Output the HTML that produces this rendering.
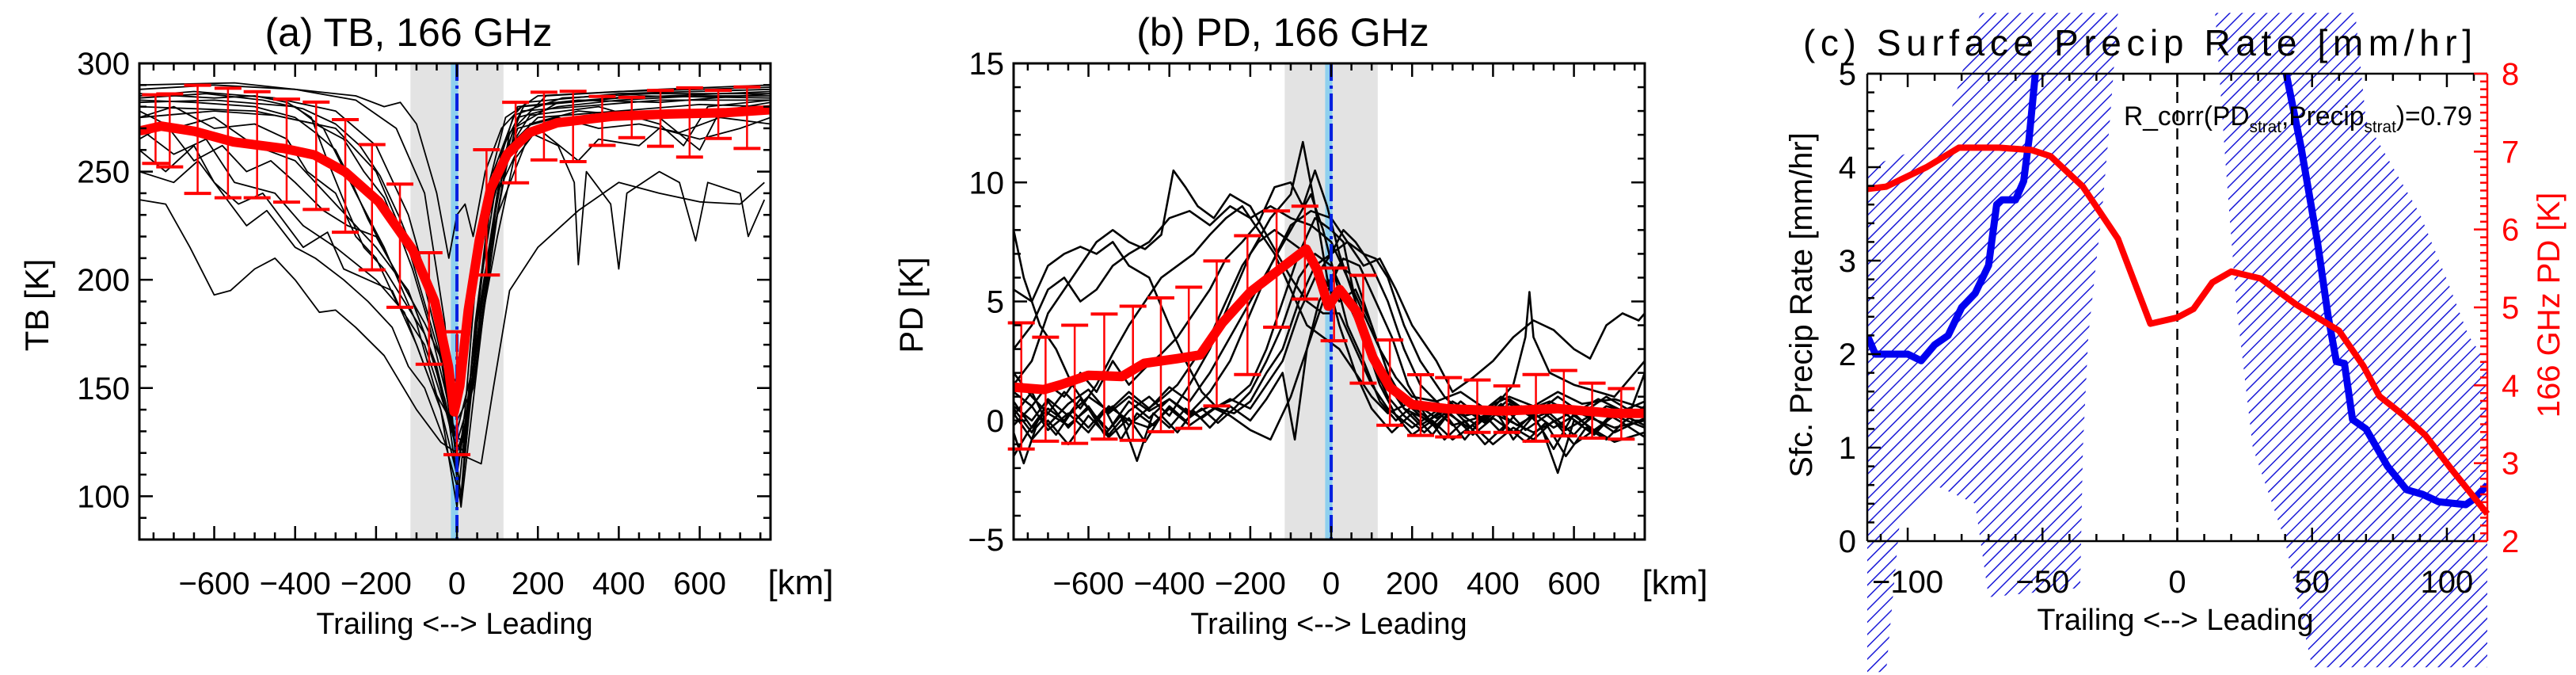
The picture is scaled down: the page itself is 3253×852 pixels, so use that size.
<!DOCTYPE html>
<html><head><meta charset="utf-8">
<style>
html,body{margin:0;padding:0;background:#fff;}
svg{display:block;font-family:"Liberation Sans",sans-serif;}
</style></head>
<body>
<svg id="fig" width="3253" height="852" viewBox="0 0 3253 852" xmlns="http://www.w3.org/2000/svg">
<defs>
<pattern id="hatch" patternUnits="userSpaceOnUse" width="11" height="11" patternTransform="rotate(45)">
<line x1="0" y1="0" x2="0" y2="11" stroke="#1a1ad8" stroke-width="3"/>
</pattern>
<clipPath id="clipA"><rect x="176" y="80" width="797" height="601"/></clipPath>
<clipPath id="clipB"><rect x="1280" y="80" width="797" height="601"/></clipPath>
</defs>
<g id="panelA"></g>
<g id="panelB"></g>
<g id="panelC"></g>
</svg>
<script>
// ---------- Panel (a) data: TB 166 GHz ----------
const tbMeanX = [-779,-731,-648,-552,-428,-352,-276,-193,-110,-55,-21,-7,7,28,55,83,124,179,248,386,524,662,775];
const tbMeanY = [269,271,268.6,263.7,260.7,257.7,249.8,236,214,190,160,139,151,186,218,242,258,268,272.6,275.6,276.6,277.2,278.6];
const tbErrX = [-745,-710,-641,-566,-494,-421,-348,-276,-210,-141,-69,0,73,145,215,287,359,432,503,575,646,717];
const tbErrHi = [285.5,285.9,289.9,288.5,286.9,283.5,282.1,274,262.5,244.2,212.5,176,260.1,282,286.7,287.1,284.7,284.3,287.5,288.7,287.5,289.1];
const tbErrLo = [253.8,252.2,239.9,237.9,237.9,235.9,232.5,222,204.6,187.3,161,119.2,202.2,244.8,255.4,254.6,262.1,265.7,261.7,256.7,265.3,260.7];
const tbTraces = [
[[-785,288],[-600,290],[-400,288],[-250,283],[-150,270],[-80,240],[-30,180],[0,110],[20,140],[60,230],[120,275],[200,285],[400,287],[600,288],[775,289]],
[[-785,285],[-650,287],[-450,284],[-300,278],[-200,262],[-120,230],[-60,190],[-10,130],[10,100],[40,170],[90,250],[150,280],[300,283],[500,282],[775,286]],
[[-785,282],[-600,283],[-400,280],[-330,270],[-250,240],[-180,215],[-100,180],[-40,140],[0,95],[30,150],[80,230],[140,270],[250,282],[450,285],[775,284]],
[[-785,278],[-700,270],[-600,275],[-500,262],[-400,255],[-300,235],[-200,215],[-120,195],[-50,160],[-5,125],[20,120],[60,190],[130,262],[200,275],[400,278],[600,281],[775,280]],
[[-785,270],[-700,258],[-620,265],[-550,245],[-450,240],[-380,225],[-300,215],[-200,200],[-130,185],[-60,150],[0,130],[40,160],[100,240],[180,272],[300,278],[500,275],[600,260],[650,278],[775,282]],
[[-785,237],[-720,235],[-660,215],[-600,193],[-560,195],[-500,205],[-450,210],[-400,200],[-340,185],[-300,186],[-250,178],[-180,165],[-100,140],[-40,125],[0,120],[60,115],[90,150],[130,195],[200,215],[300,232],[400,245],[500,240],[600,236],[700,235],[760,245]],
[[-785,280],[-500,278],[-300,270],[-200,250],[-120,215],[-50,170],[0,135],[40,150],[100,230],[180,268],[250,262],[290,245],[300,207],[320,250],[380,235],[400,205],[420,240],[500,250],[550,245],[590,218],[620,245],[700,240],[720,220],[760,237]],
[[-785,275],[-700,280],[-600,270],[-500,272],[-420,265],[-370,250],[-300,240],[-250,220],[-200,210],[-150,190],[-80,170],[-20,135],[10,95],[50,160],[110,255],[160,278],[300,280],[500,283],[775,283]],
[[-785,290],[-550,291],[-350,287],[-250,285],[-180,280],[-140,282],[-100,272],[-50,240],[-20,210],[0,230],[20,235],[40,220],[70,250],[110,270],[160,280],[400,284],[775,287]],
[[-785,260],[-720,250],[-650,262],[-600,245],[-540,235],[-480,240],[-420,225],[-380,215],[-320,222],[-280,205],[-220,200],[-160,195],[-100,170],[-40,140],[0,110],[50,170],[100,220],[140,255],[200,270],[300,255],[350,265],[450,262],[500,270],[600,265],[700,270],[775,275]],
[[-785,283],[-650,282],[-500,280],[-400,275],[-350,268],[-300,260],[-260,245],[-220,228],[-170,210],[-110,190],[-60,165],[-15,130],[15,125],[60,200],[110,260],[170,282],[400,286],[775,288]],
[[-785,250],[-700,245],[-640,255],[-580,240],[-520,225],[-470,232],[-400,215],[-350,210],[-280,200],[-220,190],[-160,178],[-120,160],[-80,150],[-30,125],[10,98],[50,180],[100,240],[150,270],[250,275],[350,270],[450,272],[550,268],[650,275],[775,272]],
[[-785,286],[-600,284],[-500,285],[-420,282],[-360,275],[-320,255],[-270,232],[-230,215],[-180,205],[-130,190],[-80,175],[-30,145],[0,120],[30,140],[80,215],[130,268],[220,285],[500,288],[775,290]],
[[-785,265],[-720,272],[-650,255],[-580,262],[-520,250],[-460,255],[-400,245],[-330,232],[-270,225],[-200,220],[-140,200],[-80,180],[-30,160],[10,150],[50,210],[120,258],[180,276],[350,280],[500,272],[560,262],[620,280],[775,283]],
[[-785,275],[-600,278],[-450,276],[-350,272],[-280,265],[-230,250],[-180,238],[-140,220],[-110,205],[-70,180],[-30,150],[0,125],[40,150],[80,210],[120,250],[150,275],[250,280],[400,283],[600,285],[775,285]],
[[-785,284],[-620,286],[-480,283],[-380,279],[-300,272],[-240,262],[-190,248],[-140,228],[-90,205],[-45,170],[-10,128],[15,118],[45,180],[90,245],[140,276],[260,284],[480,286],[775,286]]
];
// ---------- Panel (b) data: PD 166 GHz ----------
const pdMeanX = [-785,-710,-669,-600,-517,-462,-379,-324,-269,-200,-131,-62,-34,-7,21,62,103,145,200,283,421,559,697,775];
const pdMeanY = [1.4,1.3,1.5,1.9,1.85,2.4,2.6,2.75,4.1,5.4,6.3,7.2,6.3,4.8,5.5,4.6,2.65,1.4,0.67,0.5,0.4,0.5,0.3,0.3];
const pdErrX = [-766,-706,-634,-561,-490,-421,-352,-283,-207,-135,-65,7,79,145,221,290,361,434,506,575,645,717];
const pdErrHi = [4.1,3.5,4.0,4.47,4.8,5.15,5.6,6.7,7.76,8.8,9.0,6.4,6.1,3.38,1.92,1.8,1.7,1.45,1.93,2.1,1.57,1.34];
const pdErrLo = [-1.2,-0.87,-0.96,-0.78,-0.83,-0.47,-0.33,0.61,1.93,3.92,5.1,3.35,1.57,-0.2,-0.63,-0.69,-0.5,-0.5,-0.87,-0.65,-0.74,-0.78];
const pdTraces = [
[[-785,0.5],[-740,-0.5],[-700,0.8],[-650,-0.3],[-600,0.6],[-550,-0.6],[-500,0.4],[-450,1.0],[-400,0.2],[-350,1.5],[-300,3],[-250,5],[-200,7],[-150,8.5],[-100,9.5],[-70,11.7],[-40,9],[-10,6],[20,4],[60,2],[100,0.5],[150,-0.5],[200,0.3],[250,-0.6],[300,0.5],[350,-0.4],[400,0.6],[450,-0.8],[500,0.2],[550,-1.2],[600,0.3],[650,-0.5],[700,0.4],[775,-0.2]],
[[-785,8],[-760,6],[-720,4],[-680,3],[-640,1.5],[-600,0.5],[-550,-0.4],[-500,0.8],[-450,0.1],[-400,0.9],[-350,0.3],[-300,1.2],[-250,2.5],[-200,4.5],[-150,6.5],[-100,8.2],[-50,8.8],[0,8.5],[40,7.5],[80,6.5],[120,6.8],[160,5.5],[200,4],[260,2.5],[300,1.2],[350,1.8],[400,2.5],[450,3.5],[500,4.2],[550,3.8],[600,3],[640,2.6],[680,4],[720,4.5],[760,4.2],[775,4.5]],
[[-785,5.5],[-740,5],[-700,6.5],[-660,7],[-620,7.3],[-580,7],[-540,7.5],[-500,6.5],[-450,6],[-400,4],[-360,2.5],[-320,1.2],[-280,0.5],[-240,0.3],[-200,0.8],[-160,2],[-120,3],[-80,5],[-40,6.5],[0,7],[40,7.5],[80,7],[110,6.8],[140,6],[180,4],[220,2.5],[280,1],[330,0.2],[400,0.5],[450,1.5],[480,3.5],[490,5.4],[500,3.5],[540,2],[600,1.5],[700,1],[775,2.5]],
[[-785,-0.5],[-760,-1.8],[-730,-0.3],[-700,0.3],[-650,-0.2],[-600,0.5],[-560,-0.6],[-520,0.2],[-480,-1.7],[-440,0.3],[-400,-0.3],[-360,0.5],[-320,0.1],[-280,0.6],[-240,0.9],[-200,1.5],[-160,3],[-120,5],[-80,7],[-40,8.5],[0,8],[30,7.5],[60,5],[100,2.5],[140,1],[180,0.2],[230,-0.5],[280,0.3],[330,-0.8],[380,0.2],[420,-0.5],[470,0.6],[520,-0.3],[560,-2.2],[600,0],[650,-0.6],[700,0.3],[775,0.2]],
[[-785,1.5],[-740,2.5],[-700,4.5],[-660,5.5],[-620,6.5],[-580,7.5],[-540,8],[-500,7.5],[-460,7.2],[-420,7.8],[-390,10.5],[-360,9.8],[-330,9],[-290,8.5],[-250,9.5],[-200,9],[-150,7.5],[-100,6],[-60,5],[-20,4.5],[20,4.5],[60,3],[100,1.5],[140,0.5],[200,-0.3],[260,0.4],[300,-0.2],[400,0.3],[500,-0.5],[600,0.4],[700,-0.3],[775,0]],
[[-785,0.2],[-740,1.2],[-700,-0.2],[-650,0.7],[-600,1.3],[-550,0.3],[-500,1],[-450,0.4],[-400,0.9],[-350,0.2],[-300,0.6],[-250,0.2],[-200,-0.4],[-150,-0.8],[-100,1],[-60,3],[-20,5],[20,6.5],[60,6],[100,4],[140,2],[180,0.8],[220,0.2],[260,-0.3],[300,0.5],[360,-0.2],[420,0.7],[480,-0.4],[540,0.3],[600,-0.6],[660,0.5],[720,-0.1],[775,0.6]],
[[-785,3],[-740,4],[-700,5.5],[-660,6],[-620,5],[-580,5.5],[-540,6.5],[-500,7],[-450,7.5],[-400,8.5],[-350,8.8],[-300,8.2],[-250,9],[-200,8.5],[-150,9],[-100,8.5],[-50,8.2],[0,7.5],[40,6],[80,4.5],[120,3],[160,1.8],[200,1],[260,0.8],[320,1.2],[380,0.5],[440,1],[500,0.6],[560,1.2],[620,0.7],[700,0.9],[775,0.5]],
[[-785,0.8],[-740,-0.3],[-700,0.5],[-660,0],[-620,0.9],[-580,0.1],[-540,0.6],[-500,-0.2],[-460,0.4],[-420,0.9],[-380,1.5],[-340,2.5],[-300,3.5],[-260,5],[-220,6.5],[-180,7.5],[-140,8],[-100,7.5],[-60,7],[-20,6],[20,5],[60,5.5],[100,4],[140,2],[180,0.5],[220,-0.2],[280,0.4],[340,-0.3],[400,0.5],[460,-0.2],[520,0.4],[580,-0.4],[640,0.2],[700,-0.5],[775,0.1]],
[[-785,-0.2],[-740,0.6],[-700,-0.4],[-650,0.3],[-600,-0.5],[-550,0.6],[-500,0],[-450,-0.3],[-400,0.5],[-350,-0.2],[-300,0.4],[-250,0.9],[-200,0.5],[-160,1.5],[-120,2.5],[-80,4.5],[-40,6],[0,7],[30,8],[60,7.5],[100,6.5],[140,5],[180,3],[220,1.5],[260,0.8],[300,0.2],[350,-0.6],[400,0.1],[450,-0.5],[500,0.3],[550,-0.3],[600,0.2],[650,-0.4],[700,0.2],[775,-0.3]],
[[-785,1.2],[-740,0.6],[-700,1.5],[-660,1],[-620,2],[-580,1.2],[-540,2.5],[-500,1.5],[-460,2.2],[-420,2.8],[-380,3.5],[-340,4.5],[-300,5.5],[-260,6.8],[-220,7.5],[-180,8.3],[-140,9.8],[-100,10],[-70,9],[-40,10.5],[-10,9],[20,7],[60,5],[100,3],[140,1.5],[180,0.5],[240,0],[300,0.8],[360,0.2],[420,1],[480,0.4],[540,0.8],[600,0.3],[660,0.9],[720,0.4],[775,0.8]],
[[-785,-1.5],[-750,-0.5],[-720,0.2],[-680,-0.6],[-640,0.4],[-600,-0.3],[-560,0.5],[-520,-0.8],[-480,0.3],[-440,-0.2],[-400,0.6],[-360,0],[-320,0.5],[-280,-0.1],[-240,0.5],[-200,1.2],[-160,2.5],[-120,4],[-80,6],[-40,7],[0,6.5],[40,5],[80,3.5],[120,1.5],[160,0.2],[200,-0.6],[250,0],[300,-0.8],[350,-0.2],[400,-1],[450,-0.3],[500,-0.8],[550,0],[600,-1],[650,-0.4],[700,-0.9],[775,-0.5]],
[[-785,2],[-740,1],[-700,0.3],[-660,1.2],[-620,0.5],[-580,1.5],[-540,2.8],[-500,4],[-460,5],[-420,6],[-380,6.5],[-340,7],[-300,7.8],[-260,8.5],[-220,9],[-180,8],[-140,7],[-100,5.5],[-60,4],[-20,3.5],[20,3],[60,2],[100,1],[140,0.3],[200,0.8],[260,0.1],[320,0.6],[380,-0.1],[440,0.7],[500,0.1],[560,0.5],[620,-0.2],[680,0.6],[775,0.2]],
[[-785,0.3],[-740,-0.8],[-700,0],[-650,-1],[-600,0.2],[-550,-0.7],[-500,0.1],[-460,-0.9],[-420,0.2],[-380,-0.5],[-340,0.4],[-300,-0.3],[-250,0.6],[-200,0],[-160,0.9],[-120,2],[-90,-0.8],[-60,3],[-30,5],[0,6],[30,6.8],[70,6.5],[110,5],[150,3.5],[190,1.5],[230,0.3],[280,-0.8],[330,0],[380,-1],[430,-0.2],[480,-0.9],[530,-0.1],[580,-1.5],[630,-0.3],[680,-0.8],[720,-0.1],[775,-0.7]],
[[-785,0.6],[-740,0],[-700,0.9],[-650,0.2],[-600,1],[-550,0.4],[-500,1.2],[-450,0.5],[-400,1.4],[-350,0.8],[-300,2],[-250,3.5],[-200,5],[-150,6.5],[-100,8],[-50,9.5],[-20,8],[10,6],[40,4],[80,2.5],[120,0.8],[160,0],[200,0.6],[260,-0.2],[320,0.8],[380,0],[440,0.9],[500,0.2],[560,1],[620,0.3],[680,1],[740,0.4],[775,2]]
];
// ---------- Panel (c) data ----------
const precipLeftX = [-115,-112,-105,-100,-95,-90,-85,-80,-75,-70,-67,-65,-60,-57,-55,-52,-50];
const precipLeftY = [2.2,2.0,2.0,2.0,1.93,2.1,2.2,2.5,2.65,2.95,3.6,3.65,3.65,3.85,4.3,5.2,5.8];
const precipRightX = [38,39,46,52,56,59,62,65,70,78,85,91,97,107,110,115];
const precipRightY = [5.8,5.2,4.2,3.2,2.4,1.92,1.9,1.3,1.2,0.8,0.55,0.5,0.42,0.39,0.45,0.6];
const pdStratX = [-115,-108,-93,-81,-66,-54,-47,-35,-22,-10,0,6,13,20,31,44,52,60,69,75,83,92,102,115];
const pdStratY = [6.52,6.55,6.8,7.05,7.05,7.02,6.94,6.55,5.88,4.79,4.87,4.98,5.32,5.46,5.37,5.04,4.87,4.70,4.25,3.86,3.64,3.36,2.91,2.35];
const hatchLeftX = [-115,-105,-95,-85,-80,-73,-22,-25,-28,-30,-33,-35,-36,-70,-75,-90,-103,-108,-115];
const hatchLeftY = [4.0,4.1,4.2,4.5,5.0,5.65,5.65,4.5,3.5,3.0,2.2,1.0,-0.5,-0.6,0.4,0.6,0.2,-1.4,-1.4];
const hatchRightX = [14,66,70,80,90,100,108,115,115,50,40,28,22,18];
const hatchRightY = [5.65,5.65,4.5,4.0,3.5,2.8,2.2,1.9,-1.35,-1.35,0,1,2.5,4];

const NS = "http://www.w3.org/2000/svg";
function mk(parent, tag, attrs, text) {
  const e = document.createElementNS(NS, tag);
  for (const k in attrs) e.setAttribute(k, attrs[k]);
  if (text !== undefined) e.textContent = text;
  parent.appendChild(e);
  return e;
}
function lin(d0, d1, r0, r1) { return v => r0 + (v - d0) / (d1 - d0) * (r1 - r0); }
function pathFrom(xs, ys, sx, sy) {
  return xs.map((x, i) => (i ? "L" : "M") + sx(x).toFixed(1) + "," + sy(ys[i]).toFixed(1)).join("");
}
function txt(parent, x, y, s, size, anchor, fill, extra) {
  const a = {x: x, y: y, "font-size": size, "text-anchor": anchor || "middle", fill: fill || "#000"};
  if (extra) for (const k in extra) a[k] = extra[k];
  return mk(parent, "text", a, s);
}

function drawProfilePanel(g, cfg) {
  const sx = lin(-785, 775, cfg.x0, cfg.x1);
  const sy = lin(cfg.ymin, cfg.ymax, 681, 80);
  const top = 80, bot = 681;
  const band = mk(g, "rect", {x: sx(-115), y: top, width: sx(115) - sx(-115), height: bot - top, fill: "#e3e3e3"});
  
  
  const lb = mk(g, "rect", {x: sx(-15), y: top, width: sx(3) - sx(-15), height: bot - top, fill: "#8fd0ee"});
  
  
  const tg = mk(g, "g", {"clip-path": cfg.clip});
  
  
  cfg.traces.forEach(tr => {
    const p = mk(tg, "path", {d: pathFrom(tr.map(q => q[0]), tr.map(q => q[1]), sx, sy), fill: "none", stroke: "#000", "stroke-width": cfg.tw, "stroke-linejoin": "round"});
    
    
  });
  const dd = mk(g, "line", {x1: sx(0), x2: sx(0), y1: top, y2: bot, stroke: "#0020e0", "stroke-width": 4, "stroke-dasharray": "22,6,4,6"});
  
  
  const eg = mk(g, "g", {stroke: "#f00", "stroke-width": 2.5});
  
  
  cfg.ex.forEach((x, i) => {
    const X = sx(x), h = sy(cfg.ehi[i]), l = sy(cfg.elo[i]);
    mk(eg, "line", {x1: X, x2: X, y1: h, y2: l});
    mk(eg, "line", {x1: X - 17, x2: X + 17, y1: h, y2: h, "stroke-width": 4});
    mk(eg, "line", {x1: X - 17, x2: X + 17, y1: l, y2: l, "stroke-width": 4});
  });
  const m = mk(g, "path", {d: pathFrom(cfg.mx, cfg.my, sx, sy), fill: "none", stroke: "#f00", "stroke-width": 12, "stroke-linejoin": "round", "stroke-linecap": "round", "clip-path": cfg.clip});
  
  
  const fr = mk(g, "rect", {x: cfg.x0, y: top, width: cfg.x1 - cfg.x0, height: bot - top, fill: "none", stroke: "#000", "stroke-width": 3});
  
  
  const tk = mk(g, "g", {stroke: "#000", "stroke-width": 2.5});
  for (let v = -750; v <= 750; v += 50) {
    const X = sx(v), L = (v % 200 === 0) ? 17 : 9;
    mk(tk, "line", {x1: X, x2: X, y1: bot, y2: bot - L});
    mk(tk, "line", {x1: X, x2: X, y1: top, y2: top + L});
  }
  for (let v = cfg.ymin; v <= cfg.ymax + 1e-9; v += cfg.yminor) {
    const Y = sy(v), major = Math.abs(Math.round(v / cfg.ymajor) * cfg.ymajor - v) < 1e-6;
    const L = major ? 17 : 9;
    mk(tk, "line", {x1: cfg.x0, x2: cfg.x0 + L, y1: Y, y2: Y});
    mk(tk, "line", {x1: cfg.x1, x2: cfg.x1 - L, y1: Y, y2: Y});
  }
  const xlabs = ["\u2212600", "\u2212400", "\u2212200", "0", "200", "400", "600"];
  const xvals = [-600, -400, -200, 0, 200, 400, 600];
  xvals.forEach((v, i) => {
    const t = txt(g, sx(v), 750, xlabs[i], 40);
    
    
  });
  const km = txt(g, cfg.x1 + 38, 750, "[km]", 44);
  
  
  const xt = txt(g, cfg.x0 + 398, 800, "Trailing <--> Leading", 38);
  
  
  cfg.ylabs.forEach(v => {
    const t = txt(g, cfg.x0 - 12, sy(v) + 14, v < 0 ? "\u2212" + (-v) : String(v), 40, "end");
    
    
  });
  const yt = txt(g, 0, 0, cfg.ytitle, 42, "middle", "#000", {transform: "translate(" + (cfg.x0 - 115) + ",385) rotate(-90)"});
  
  
  const ti = txt(g, cfg.x0 + 340, 58, cfg.title, 50);
  
  
}

drawProfilePanel(document.getElementById("panelA"), {
  x0: 176, x1: 973, ymin: 80, ymax: 300, ymajor: 50, yminor: 10, clip: "url(#clipA)", tw: 1.8,
  traces: tbTraces, mx: tbMeanX, my: tbMeanY, ex: tbErrX, ehi: tbErrHi, elo: tbErrLo,
  ylabs: [100, 150, 200, 250, 300], ytitle: "TB [K]", title: "(a)  TB,  166  GHz"
});
drawProfilePanel(document.getElementById("panelB"), {
  x0: 1280, x1: 2077, ymin: -5, ymax: 15, ymajor: 5, yminor: 1, clip: "url(#clipB)", tw: 2.6,
  traces: pdTraces, mx: pdMeanX, my: pdMeanY, ex: pdErrX, ehi: pdErrHi, elo: pdErrLo,
  ylabs: [-5, 0, 5, 10, 15], ytitle: "PD [K]", title: "(b)  PD,  166  GHz"
});

(function () {
  const g = document.getElementById("panelC");
  const x0 = 2358, x1 = 3141, top = 93, bot = 683;
  const sx = lin(-115, 115, x0, x1);
  const syL = lin(0, 5, bot, top);
  const syR = lin(2, 8, bot, top);
  const h1 = mk(g, "path", {d: pathFrom(hatchLeftX, hatchLeftY, sx, syL) + "Z", fill: "url(#hatch)"});
  
  
  const h2 = mk(g, "path", {d: pathFrom(hatchRightX, hatchRightY, sx, syL) + "Z", fill: "url(#hatch)"});
  
  
  const zl = mk(g, "line", {x1: sx(0), x2: sx(0), y1: top, y2: bot, stroke: "#000", "stroke-width": 2.5, "stroke-dasharray": "14,9"});
  
  
  const cl = mk(g, "clipPath", {id: "clipC"});
  mk(cl, "rect", {x: x0, y: top, width: x1 - x0, height: bot - top});
  const b1 = mk(g, "path", {d: pathFrom(precipLeftX, precipLeftY, sx, syL), fill: "none", stroke: "#0000f0", "stroke-width": 9, "stroke-linejoin": "round", "clip-path": "url(#clipC)"});
  
  
  const b2 = mk(g, "path", {d: pathFrom(precipRightX, precipRightY, sx, syL), fill: "none", stroke: "#0000f0", "stroke-width": 9, "stroke-linejoin": "round", "clip-path": "url(#clipC)"});
  
  
  const r = mk(g, "path", {d: pathFrom(pdStratX, pdStratY, sx, syR), fill: "none", stroke: "#f00", "stroke-width": 8, "stroke-linejoin": "round"});
  
  
  const ax = mk(g, "g", {stroke: "#000", "stroke-width": 2.5, fill: "none"});
  mk(ax, "line", {x1: x0, x2: x1, y1: top, y2: top});
  mk(ax, "line", {x1: x0, x2: x1, y1: bot, y2: bot});
  mk(ax, "line", {x1: x0, x2: x0, y1: top, y2: bot});
  for (let v = -110; v <= 110; v += 10) {
    const L = v % 50 === 0 ? 17 : 9;
    mk(ax, "line", {x1: sx(v), x2: sx(v), y1: bot, y2: bot - L});
    mk(ax, "line", {x1: sx(v), x2: sx(v), y1: top, y2: top + L});
  }
  for (let v = 0; v <= 5.0001; v += 0.2) {
    const L = Math.abs(v - Math.round(v)) < 1e-6 ? 17 : 9;
    mk(ax, "line", {x1: x0, x2: x0 + L, y1: syL(v), y2: syL(v)});
  }
  const rax = mk(g, "g", {stroke: "#f00", "stroke-width": 2.5});
  mk(rax, "line", {x1: x1, x2: x1, y1: top, y2: bot});
  for (let v = 2; v <= 8.0001; v += 0.1) {
    const L = Math.abs(v - Math.round(v)) < 1e-6 ? 17 : 9;
    mk(rax, "line", {x1: x1, x2: x1 - L, y1: syR(v), y2: syR(v)});
  }
  [-100, -50, 0, 50, 100].forEach(v => {
    const t = txt(g, sx(v), 748, v < 0 ? "\u2212" + (-v) : String(v), 40);
    
    
  });
  [0, 1, 2, 3, 4, 5].forEach(v => {
    const t = txt(g, x0 - 14, syL(v) + 14, String(v), 40, "end");
    
    
  });
  [2, 3, 4, 5, 6, 7, 8].forEach(v => {
    const t = txt(g, x1 + 18, syR(v) + 14, String(v), 40, "start", "#f00");
    
    
  });
  const xt = txt(g, 2747, 795, "Trailing <--> Leading", 38);
  
  
  const yl = txt(g, 0, 0, "Sfc.  Precip  Rate  [mm/hr]", 40, "middle", "#000", {transform: "translate(2288,385) rotate(-90)"});
  
  
  const yr = txt(g, 0, 0, "166  GHz  PD  [K]", 40, "middle", "#f00", {transform: "translate(3232,385) rotate(-90)"});
  
  
  const ti = txt(g, 2277, 70, "(c)  Surface  Precip  Rate  [mm/hr]", 46, "start", "#000", {textLength: 845, lengthAdjust: "spacing"});
  
  
  const rc = mk(g, "text", {x: 2682, y: 158, "font-size": 34, fill: "#000", textLength: 440, lengthAdjust: "spacingAndGlyphs"});
  
  
  rc.innerHTML = 'R_corr(PD<tspan font-size="21" dy="9">strat</tspan><tspan dy="-9">,Precip</tspan><tspan font-size="21" dy="9">strat</tspan><tspan dy="-9">)=0.79</tspan>';
})();
</script>
</body></html>
